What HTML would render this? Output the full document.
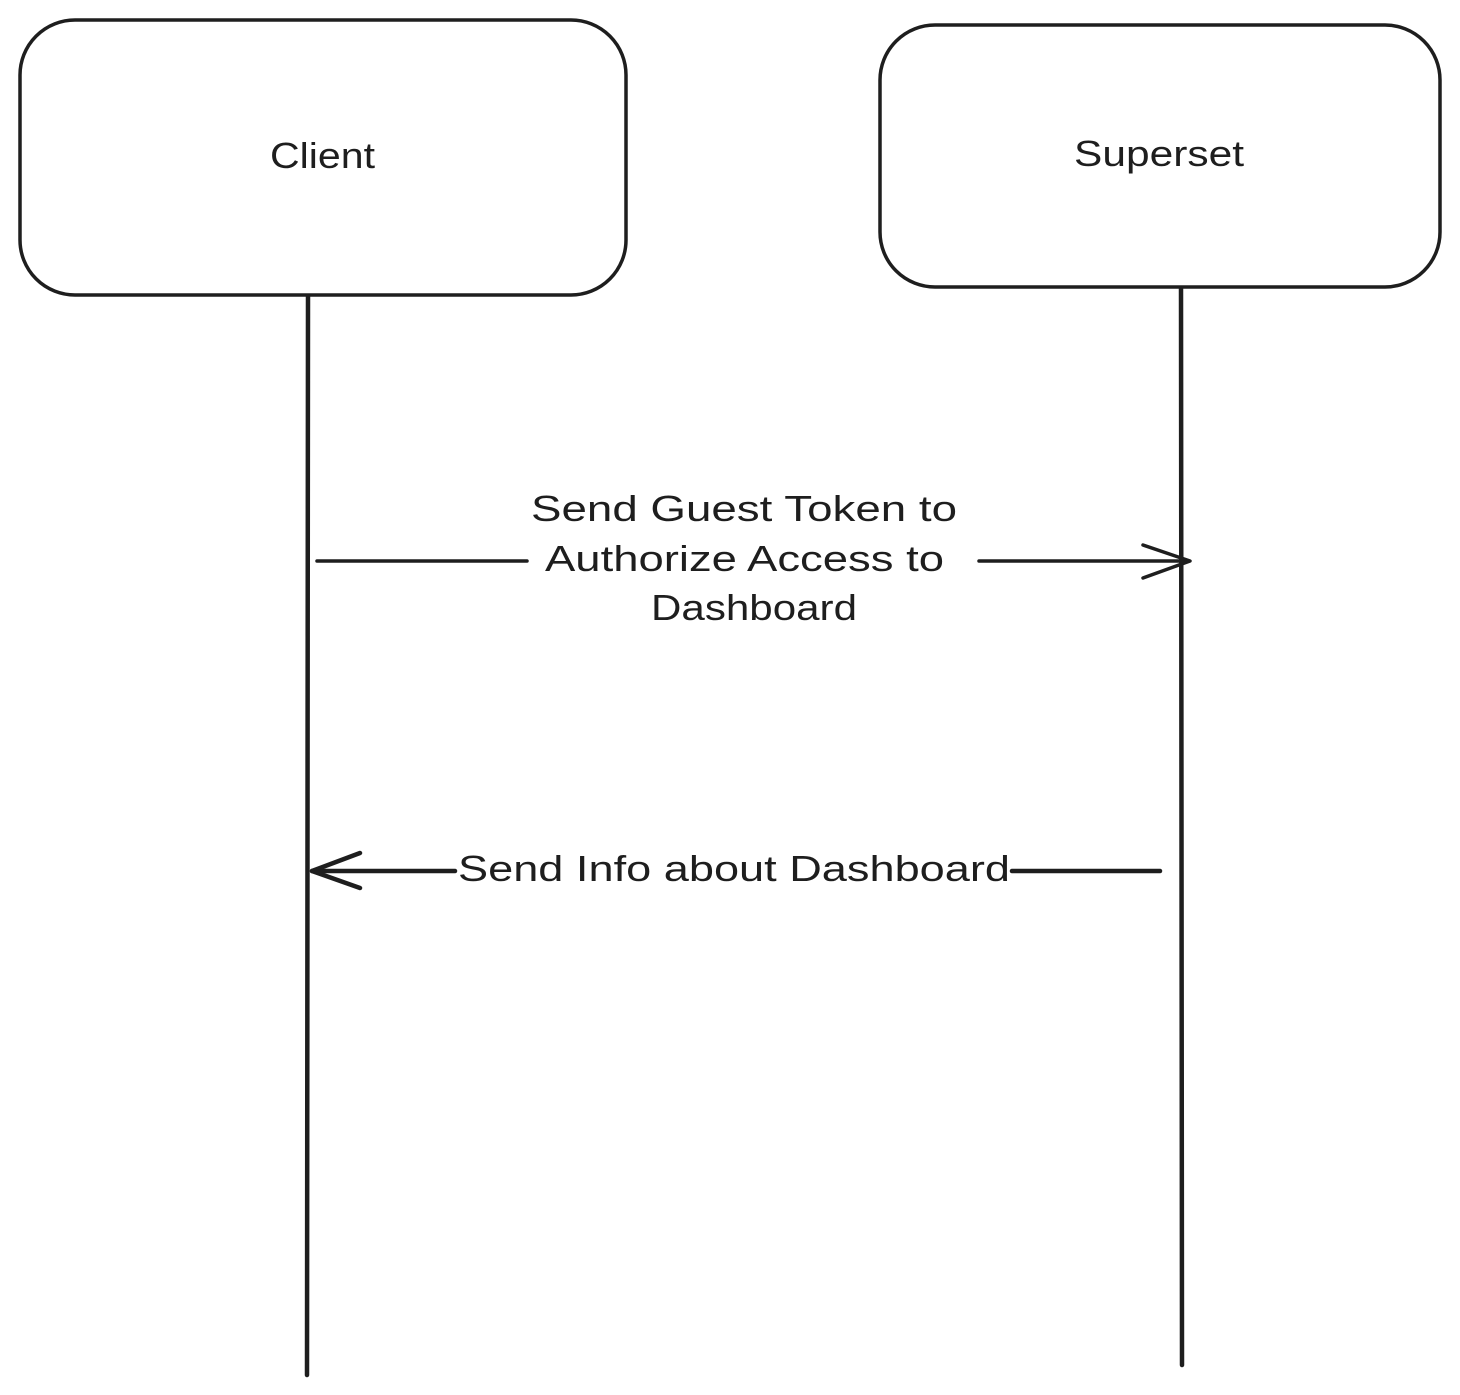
<!DOCTYPE html>
<html>
<head>
<meta charset="utf-8">
<style>
html,body{margin:0;padding:0;background:#fff;}
svg{display:block;}
text{font-family:"Liberation Sans",sans-serif;fill:#1e1e1e;}
</style>
</head>
<body>
<svg width="1460" height="1395" viewBox="0 0 1460 1395" xmlns="http://www.w3.org/2000/svg">
  <g fill="none" stroke="#1e1e1e" stroke-width="3.5" stroke-linecap="round" stroke-linejoin="round">
    <rect x="20" y="20" width="606" height="275" rx="55" ry="55"/>
    <rect x="880" y="25" width="560" height="262" rx="55" ry="55"/>
    <line x1="308" y1="296" x2="307" y2="1375" stroke-width="4.5"/>
    <line x1="1181" y1="288" x2="1182" y2="1365" stroke-width="4.5"/>
    <!-- arrow 1 -->
    <line x1="317" y1="561" x2="527" y2="561"/>
    <line x1="979" y1="561" x2="1189" y2="561"/>
    <polyline points="1143,545 1190,561 1143,578"/>
    <!-- arrow 2 -->
    <line x1="1160" y1="871" x2="1012" y2="871" stroke-width="4.5"/>
    <line x1="455" y1="871" x2="312" y2="871" stroke-width="4.5"/>
    <polyline points="360,853 312,871 360,888" stroke-width="4.5"/>
  </g>
  <text x="270" y="168" font-size="36" textLength="105" lengthAdjust="spacingAndGlyphs">Client</text>
  <text x="1074" y="166" font-size="36" textLength="170" lengthAdjust="spacingAndGlyphs">Superset</text>
  <text x="531" y="521" font-size="36" textLength="426" lengthAdjust="spacingAndGlyphs">Send Guest Token to</text>
  <text x="545" y="571" font-size="36" textLength="399" lengthAdjust="spacingAndGlyphs">Authorize Access to</text>
  <text x="651" y="620" font-size="36" textLength="206" lengthAdjust="spacingAndGlyphs">Dashboard</text>
  <text x="458" y="881" font-size="36" textLength="552" lengthAdjust="spacingAndGlyphs">Send Info about Dashboard</text>
</svg>
</body>
</html>
